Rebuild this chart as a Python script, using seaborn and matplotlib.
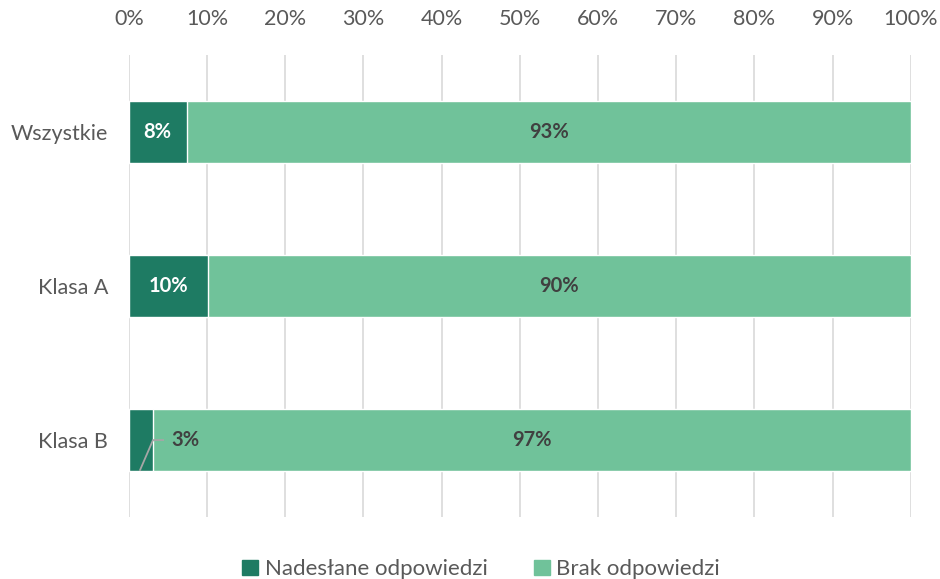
import pandas as pd
import seaborn as sns
import matplotlib.pyplot as plt
from matplotlib.patches import Patch

# data
categories = ['Wszystkie', 'Klasa A', 'Klasa B']
nadeslane = [7.4, 10.1, 3.1]
brak = [92.6, 89.9, 96.9]
labels_nad = ['8%', '10%', '3%']
labels_brak = ['93%', '90%', '97%']

dark = '#1e7b63'
light = '#70c29a'
txt = '#404040'

df = pd.DataFrame({'kat': categories, 'nad': nadeslane, 'brak': brak})
df['total'] = df['nad'] + df['brak']

sns.set_style('white')
plt.rcParams['font.family'] = ['Lato', 'DejaVu Sans']

fig = plt.figure(figsize=(9.4, 5.79), dpi=100)
ax = fig.add_axes([0.137, 0.107, 0.832, 0.798])

# stacked bars: full length first, dark part on top
sns.barplot(data=df, x='total', y='kat', orient='h', color=light, width=0.4,
            saturation=1, ax=ax, zorder=2)
sns.barplot(data=df, x='nad', y='kat', orient='h', color=dark, width=0.4,
            saturation=1, ax=ax, zorder=3)

ax.set_xlim(0, 100)
ax.set_ylim(2.5, -0.5)
ax.xaxis.tick_top()
ax.set_xticks(range(0, 101, 10))
ax.set_xticklabels([f'{v}%' for v in range(0, 101, 10)])
ax.tick_params(axis='x', length=0, pad=19, labelsize=15.5, labelcolor='#595959')
ax.tick_params(axis='y', length=0, pad=15, labelsize=15.5, labelcolor='#595959')
ax.set_xlabel('')
ax.set_ylabel('')
ax.grid(axis='x', color='#d9d9d9', linewidth=1.2, zorder=0)
ax.set_axisbelow(True)
for s in ax.spines.values():
    s.set_visible(False)

for i in range(len(categories)):
    ax.text(nadeslane[i] + brak[i] / 2, i, labels_brak[i], ha='center', va='center',
            fontsize=14.5, fontweight='bold', color=txt, zorder=5)
    if nadeslane[i] >= 5:
        ax.text(nadeslane[i] / 2, i, labels_nad[i], ha='center', va='center',
                fontsize=14.5, fontweight='bold', color='white', zorder=5)
    else:
        # small slice: label outside with leader line
        x0 = nadeslane[i] * 0.45
        x1 = nadeslane[i]
        x2 = nadeslane[i] + 1.4
        ax.plot([x0, x1, x2], [i + 0.2, i, i], color='#a6a6a6', linewidth=1.3,
                zorder=4, solid_capstyle='butt')
        ax.text(x2 + 1.0, i, labels_nad[i], ha='left', va='center',
                fontsize=14.5, fontweight='bold', color=txt, zorder=5)

handles = [Patch(color=dark, label='Nadesłane odpowiedzi'),
           Patch(color=light, label='Brak odpowiedzi')]
fig.legend(handles=handles, loc='lower center', bbox_to_anchor=(0.512, -0.035), ncol=2,
           frameon=False, fontsize=16, handlelength=0.7, handleheight=0.7,
           handletextpad=0.3, columnspacing=2.1, labelcolor='#595959')

fig.savefig('out.png', dpi=100)
